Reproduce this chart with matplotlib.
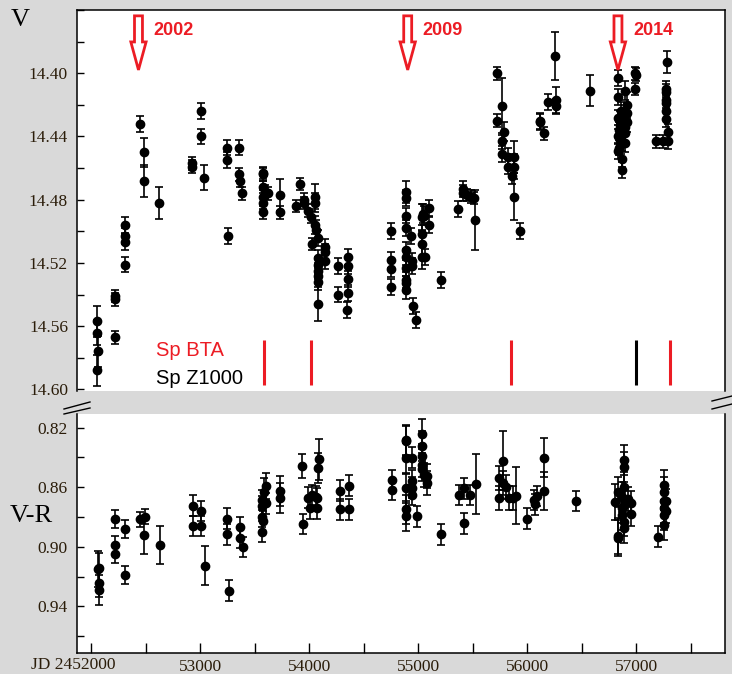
import matplotlib
matplotlib.use("Agg")
import matplotlib.pyplot as plt
from matplotlib.ticker import MultipleLocator, FuncFormatter
from matplotlib.patches import FancyArrow
from matplotlib.lines import Line2D

# Fotometria V: JD-2450000, magnitud, error
v_jd = [52050, 52055, 52058, 52052, 52216, 52220, 52216,
        52308, 52308, 52308, 52308, 52449, 52485, 52485, 52620,
        52923, 52925, 53005, 53005, 53033, 53244, 53244, 53256,
        53357, 53357, 53360, 53382,
        53571, 53574, 53571, 53571, 53590, 53571, 53571, 53617,
        53727, 53727, 53874, 53914, 53950, 53955, 53984, 54015, 54021,
        54051, 54051, 54048, 54060, 54076, 54076, 54076, 54076, 54076, 54076, 54076,
        54142, 54142, 54142, 54265, 54265,
        54357, 54357, 54357, 54350, 54345,
        54746, 54746, 54746, 54746,
        54886, 54886, 54886, 54886, 54886, 54886, 54886, 54886, 54886, 54886,
        54932, 54938, 54945, 54947, 54978,
        55030, 55042, 55048, 55030, 55035, 55035, 55060, 55097, 55097,
        55204, 55366, 55406, 55406, 55446, 55480, 55513, 55519,
        55724, 55724, 55764, 55764, 55764, 55788, 55825, 55825, 55856,
        55880, 55880, 55880, 55932,
        56115, 56118, 56155, 56192, 56260, 56260, 56255, 56577,
        56834, 56834, 56834, 56840, 56834, 56838, 56834, 56865, 56865,
        56849, 56849, 56849, 56849, 56895, 56911, 56895, 56895, 56895,
        56900, 56895, 56911, 56911, 56856, 56860, 56870,
        56987, 56992, 56987, 57180, 57241,
        57283, 57271, 57271, 57271, 57275, 57271, 57271, 57292, 57292]
v_mag = [14.557, 14.564, 14.576, 14.588, 14.541, 14.543, 14.567,
         14.496, 14.503, 14.507, 14.521, 14.432, 14.450, 14.468, 14.482,
         14.457, 14.459, 14.424, 14.440, 14.466, 14.447, 14.455, 14.503,
         14.447, 14.464, 14.468, 14.476,
         14.463, 14.464, 14.472, 14.478, 14.475, 14.482, 14.488, 14.476,
         14.477, 14.488, 14.484, 14.470, 14.480, 14.482, 14.487, 14.491, 14.508,
         14.478, 14.482, 14.496, 14.499, 14.504, 14.517, 14.521, 14.525, 14.528, 14.532, 14.546,
         14.510, 14.513, 14.519, 14.522, 14.540,
         14.516, 14.522, 14.530, 14.539, 14.550,
         14.500, 14.518, 14.524, 14.535,
         14.475, 14.479, 14.490, 14.498, 14.512, 14.516, 14.523, 14.531, 14.533, 14.537,
         14.503, 14.519, 14.522, 14.547, 14.556,
         14.491, 14.489, 14.490, 14.502, 14.508, 14.516, 14.516, 14.485, 14.496,
         14.531, 14.486, 14.473, 14.476, 14.477, 14.478, 14.479, 14.493,
         14.400, 14.430, 14.421, 14.443, 14.451, 14.437, 14.453, 14.459, 14.465,
         14.453, 14.459, 14.478, 14.500,
         14.430, 14.431, 14.438, 14.418, 14.417, 14.421, 14.389, 14.411,
         14.403, 14.415, 14.428, 14.436, 14.440, 14.447, 14.449, 14.454, 14.461,
         14.430, 14.433, 14.439, 14.442, 14.411, 14.420, 14.426, 14.430, 14.434,
         14.438, 14.444, 14.425, 14.431, 14.424, 14.445, 14.437,
         14.400, 14.401, 14.410, 14.443, 14.443,
         14.393, 14.410, 14.412, 14.417, 14.419, 14.424, 14.429, 14.437, 14.443]
v_err = [0.010, 0.008, 0.010, 0.010, 0.004, 0.004, 0.004,
         0.005, 0.005, 0.005, 0.005, 0.005, 0.009, 0.010, 0.010,
         0.004, 0.004, 0.005, 0.005, 0.008, 0.005, 0.005, 0.005,
         0.005, 0.004, 0.004, 0.004,
         0.004, 0.004, 0.004, 0.004, 0.004, 0.004, 0.004, 0.004,
         0.010, 0.004, 0.004, 0.004, 0.004, 0.004, 0.004, 0.004, 0.004,
         0.008, 0.006, 0.006, 0.006, 0.005, 0.005, 0.005, 0.005, 0.005, 0.005, 0.011,
         0.005, 0.005, 0.005, 0.005, 0.005,
         0.005, 0.005, 0.005, 0.005, 0.005,
         0.005, 0.005, 0.005, 0.005,
         0.007, 0.005, 0.005, 0.005, 0.005, 0.005, 0.005, 0.005, 0.005, 0.006,
         0.005, 0.005, 0.005, 0.005, 0.005,
         0.008, 0.006, 0.006, 0.006, 0.008, 0.008, 0.005, 0.005, 0.005,
         0.005, 0.005, 0.005, 0.005, 0.004, 0.004, 0.004, 0.019,
         0.004, 0.004, 0.018, 0.005, 0.005, 0.006, 0.006, 0.005, 0.005,
         0.010, 0.008, 0.015, 0.005,
         0.005, 0.005, 0.004, 0.005, 0.008, 0.005, 0.015, 0.010,
         0.005, 0.005, 0.005, 0.005, 0.005, 0.005, 0.005, 0.005, 0.005,
         0.006, 0.006, 0.006, 0.006, 0.006, 0.008, 0.006, 0.006, 0.006,
         0.006, 0.006, 0.006, 0.006, 0.006, 0.006, 0.006,
         0.004, 0.004, 0.004, 0.004, 0.004,
         0.007, 0.005, 0.005, 0.005, 0.005, 0.005, 0.005, 0.005, 0.005]

# Color V-R: JD-2450000, color, error
vr_jd = [52069, 52062, 52069, 52069, 52217, 52217, 52217, 52308, 52308,
         52444, 52494, 52486, 52629, 52929, 52929, 53005, 53005, 53042,
         53244, 53244, 53262, 53365, 53365, 53388,
         53565, 53582, 53600, 53565, 53565, 53570, 53565, 53600, 53729, 53729,
         53934, 53938, 53991, 54021, 54010, 54065, 54074, 54074, 54080, 54085,
         54279, 54279, 54359, 54359, 54757, 54757,
         54889, 54889, 54889, 54889, 54889, 54889, 54946, 54946, 54946, 54946, 54984,
         55037, 55037, 55037, 55037, 55037, 55055, 55075, 55075,
         55212, 55374, 55420, 55420, 55477, 55526,
         55742, 55742, 55772, 55772, 55802, 55829, 55868, 55893, 55992,
         56057, 56068, 56087, 56152, 56152, 56447,
         56803, 56834, 56834, 56830, 56865, 56865, 56865,
         56890, 56890, 56890, 56890, 56890, 56890, 56923, 56955, 56955,
         57202, 57251, 57251, 57251, 57251, 57251, 57251, 57271, 57271]
vr_col = [0.9145, 0.9150, 0.9241, 0.9291, 0.8816, 0.8988, 0.9051, 0.8881, 0.9190,
          0.8814, 0.8798, 0.8921, 0.8988, 0.8724, 0.8861, 0.8760, 0.8861, 0.9127,
          0.8811, 0.8917, 0.9295, 0.8870, 0.8939, 0.9002,
          0.8726, 0.8630, 0.8592, 0.8686, 0.8798, 0.8830, 0.8899, 0.8708, 0.8623, 0.8675,
          0.8455, 0.8847, 0.8670, 0.8652, 0.8742, 0.8665, 0.8675, 0.8742, 0.8473, 0.8413,
          0.8623, 0.8749, 0.8590, 0.8749, 0.8552, 0.8619,
          0.8283, 0.8290, 0.8402, 0.8608, 0.8749, 0.8793, 0.8402, 0.8556, 0.8603, 0.8652, 0.8796,
          0.8243, 0.8321, 0.8388, 0.8451, 0.8480, 0.8518, 0.8569, 0.8525,
          0.8917, 0.8652, 0.8608, 0.8843, 0.8652, 0.8578,
          0.8536, 0.8670, 0.8422, 0.8574, 0.8596, 0.8670, 0.8675, 0.8657, 0.8811,
          0.8686, 0.8715, 0.8659, 0.8402, 0.8625, 0.8693,
          0.8697, 0.8634, 0.8943, 0.8930, 0.8665, 0.8742, 0.8787,
          0.8417, 0.8466, 0.8596, 0.8720, 0.8831, 0.8872, 0.8680, 0.8708, 0.8780,
          0.8932, 0.8585, 0.8690, 0.8630, 0.8742, 0.8787, 0.8854, 0.8690, 0.8760]
vr_err = [0.010, 0.012, 0.010, 0.010, 0.006, 0.006, 0.006, 0.006, 0.006,
          0.005, 0.005, 0.013, 0.013, 0.007, 0.007, 0.007, 0.007, 0.013,
          0.007, 0.007, 0.007, 0.007, 0.007, 0.007,
          0.007, 0.009, 0.009, 0.007, 0.007, 0.007, 0.007, 0.007, 0.010, 0.010,
          0.008, 0.007, 0.007, 0.007, 0.007, 0.007, 0.007, 0.007, 0.010, 0.014,
          0.007, 0.007, 0.007, 0.007, 0.007, 0.007,
          0.010, 0.010, 0.010, 0.010, 0.010, 0.010, 0.007, 0.007, 0.007, 0.007, 0.007,
          0.010, 0.010, 0.008, 0.008, 0.008, 0.008, 0.008, 0.008,
          0.007, 0.007, 0.007, 0.007, 0.007, 0.020,
          0.008, 0.008, 0.020, 0.008, 0.008, 0.008, 0.008, 0.019, 0.007,
          0.007, 0.007, 0.007, 0.013, 0.013, 0.007,
          0.012, 0.010, 0.012, 0.012, 0.010, 0.010, 0.010,
          0.010, 0.010, 0.010, 0.010, 0.010, 0.010, 0.008, 0.008, 0.008,
          0.007, 0.010, 0.010, 0.010, 0.010, 0.010, 0.010, 0.008, 0.008]

# Fechas de los espectros (BTA en rojo, Z1000 en negro)
bta_jd = [53583, 54012, 55850, 57311]
z1000_jd = [56994]

# Flechas con los anos de observacion
years = ["2002", "2009", "2014"]
year_jd = [52432, 54902, 56831]

RED = "#ec1c24"
LABEL_COLOR = "#2b1d0a"
W, H = 732, 674


def px(x0, y0, x1, y1):
    # rectangulo en pixeles (desde arriba a la izquierda) -> fraccion de figura
    return [x0 / W, 1 - y1 / H, (x1 - x0) / W, (y1 - y0) / H]


fig = plt.figure(figsize=(W / 100, H / 100), dpi=100, facecolor="#d9d9d9")
ax1 = fig.add_axes(px(77, 10, 725, 391))
ax2 = fig.add_axes(px(77, 414, 725, 653), sharex=ax1)

serif = "Liberation Serif"
sans = "Liberation Sans"

err_style = dict(fmt="o", color="black", ms=6, capsize=3, elinewidth=1.2,
                 capthick=1.2, zorder=3)
ax1.errorbar(v_jd, v_mag, yerr=v_err, **err_style)
ax2.errorbar(vr_jd, vr_col, yerr=vr_err, **err_style)

ax1.set_xlim(51868, 57813)
ax1.set_ylim(14.601, 14.360)
ax2.set_ylim(0.9714, 0.8108)

# V: etiquetas desde 14.40; V-R: etiquetas en 0.82, 0.86, ...
ax1.yaxis.set_major_locator(MultipleLocator(0.04))
ax1.yaxis.set_major_formatter(FuncFormatter(lambda v, p: "" if v < 14.39 else "%.2f" % v))
ax2.yaxis.set_major_locator(MultipleLocator(0.04, offset=0.02))
ax2.yaxis.set_major_formatter(FuncFormatter(lambda v, p: "%.2f" % v))

for ax in (ax1, ax2):
    ax.set_facecolor("white")
    for s in ax.spines.values():
        s.set_linewidth(1.1)
    ax.yaxis.set_minor_locator(MultipleLocator(0.02))
    ax.tick_params(axis="y", which="both", direction="in", length=5, width=1,
                   pad=6.5, labelsize=12.5, labelcolor=LABEL_COLOR)
    for lab in ax.get_yticklabels():
        lab.set_family(serif)

ax1.spines["bottom"].set_visible(False)
ax2.spines["top"].set_visible(False)
ax1.tick_params(axis="x", which="both", bottom=False, labelbottom=False)

ax2.xaxis.set_major_locator(MultipleLocator(1000))
ax2.xaxis.set_minor_locator(MultipleLocator(500))
ax2.xaxis.set_major_formatter(FuncFormatter(lambda v, p: "" if v < 52500 else "%d" % v))
ax2.tick_params(axis="x", which="both", direction="in", length=7, width=1,
                pad=4.5, labelsize=12.5, labelcolor=LABEL_COLOR)
for lab in ax2.get_xticklabels():
    lab.set_family(serif)
ax2.annotate("JD 2452000", xy=(52000, 0), xycoords=("data", "axes fraction"),
             xytext=(24, -12), textcoords="offset pixels", ha="right", va="center",
             fontsize=12.5, family=serif, color=LABEL_COLOR)

# etiquetas de los ejes
ax1.set_ylabel("V", rotation=0, fontsize=19, family=serif, ha="center", va="center")
ax1.yaxis.set_label_coords(-0.088, 0.975)
ax2.set_ylabel("V-R", rotation=0, fontsize=19, family=serif, ha="center", va="center")
ax2.yaxis.set_label_coords(-0.070, 0.573)

# flechas rojas huecas con el ano
for yr, jd in zip(years, year_jd):
    ax1.add_patch(FancyArrow(jd, 14.3637, 0, 0.0342, width=73, head_width=140,
                             head_length=0.0177, length_includes_head=True,
                             facecolor="white", edgecolor=RED, lw=2, zorder=4))
    ax1.annotate(yr, xy=(jd, 14.3637), xytext=(15, -15), textcoords="offset pixels",
                 ha="left", va="center", fontsize=13, fontweight="bold",
                 family=sans, color=RED)

# marcas de los espectros
ax1.vlines(bta_jd, 14.5688, 14.5973, color=RED, lw=2.2)
ax1.vlines(z1000_jd, 14.5688, 14.5973, color="black", lw=2.2)
ax1.text(0.122, 0.105, "Sp BTA", transform=ax1.transAxes, fontsize=14.5,
         family=sans, color=RED, va="center", ha="left")
ax1.text(0.122, 0.034, "Sp Z1000", transform=ax1.transAxes, fontsize=14.5,
         family=sans, color="black", va="center", ha="left")

# corte del eje entre los dos paneles
for (x0, y0, x1, y1) in [(64, 409, 90, 402), (64, 414, 90, 408),
                         (712, 401, 732, 396), (712, 409, 732, 404)]:
    fig.add_artist(Line2D([x0 / W, x1 / W], [1 - y0 / H, 1 - y1 / H],
                          transform=fig.transFigure, color="black", lw=1))

fig.savefig("out.png", dpi=100, facecolor=fig.get_facecolor())
